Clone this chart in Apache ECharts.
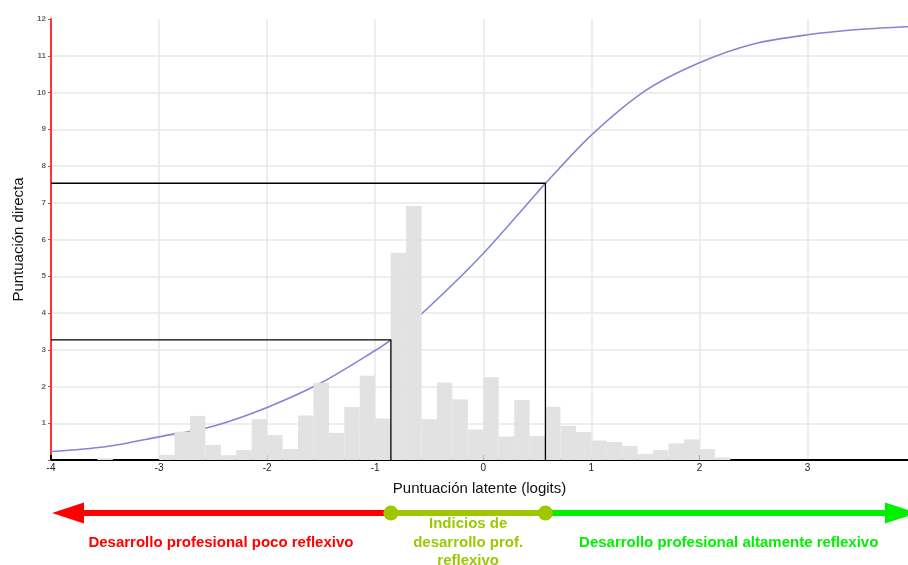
<!DOCTYPE html>
<html><head><meta charset="utf-8">
<script src="https://cdn.jsdelivr.net/npm/echarts@6/dist/echarts.min.js"></script>
<style>html,body{margin:0;padding:0;background:#fff}#c{width:908px;height:565px}</style>
</head><body><div id="c"></div>
<script>
// ---- data ----
const xTickLabels = [-4, -3, -2, -1, 0, 1, 2, 3];
const xMajorTicks = [-4, -2, 0, 2];
const yTickLabels = [1, 2, 3, 4, 5, 6, 7, 8, 9, 10, 11, 12];

const binWidth = 1 / 7;
const binStart = [-3.571, -3.000, -2.857, -2.714, -2.571, -2.429, -2.286, -2.143, -2.000, -1.857,
                  -1.714, -1.571, -1.429, -1.286, -1.143, -1.000, -0.857, -0.714, -0.571, -0.429,
                  -0.286, -0.143, 0.000, 0.143, 0.286, 0.429, 0.571, 0.714, 0.857, 1.000,
                  1.143, 1.286, 1.429, 1.571, 1.714, 1.857, 2.000, 2.143];
const binCount = [0.05, 0.14, 0.77, 1.20, 0.41, 0.13, 0.27, 1.11, 0.68, 0.30,
                  1.21, 2.10, 0.74, 1.44, 2.29, 1.13, 5.64, 6.91, 1.11, 2.11,
                  1.65, 0.83, 2.25, 0.64, 1.63, 0.65, 1.45, 0.93, 0.76, 0.53,
                  0.49, 0.38, 0.16, 0.27, 0.45, 0.56, 0.30, 0.07];

const curveX = [-4, -3.5, -3, -2.5, -2, -1.5, -1, -0.855, -0.5, 0, 0.5, 0.575, 1, 1.5, 2, 2.5, 3, 3.5, 3.93];
const curveY = [0.23, 0.36, 0.63, 0.92, 1.43, 2.10, 2.98, 3.27, 4.17, 5.62, 7.28, 7.53, 8.84, 10.05, 10.81, 11.32, 11.57, 11.72, 11.79];

const cutLow = [-0.855, 3.27];
const cutHigh = [0.575, 7.53];

const xMin = -4, xMax = 3.93, yMin = 0, yMax = 12;

const bandLabels = ['Desarrollo profesional poco reflexivo', 'Indicios de\ndesarrollo prof.\nreflexivo', 'Desarrollo profesional altamente reflexivo'];
const bandColors = ['#ff0000', '#9dc800', '#00f000'];

const xTitle = 'Puntuación latente (logits)';
const yTitle = 'Puntuación directa';

// ---- chart ----
const FONT = '"Liberation Sans", Arial, sans-serif';
const chart = echarts.init(document.getElementById('c'), null, {renderer: 'canvas'});

const option = {
  animation: false,
  backgroundColor: '#ffffff',
  textStyle: {fontFamily: FONT},
  grid: {left: 51, right: 0, top: 19, bottom: 105, containLabel: false},
  xAxis: [
    {
      type: 'value', min: xMin, max: xMax, interval: 1, position: 'bottom',
      name: xTitle, nameLocation: 'middle', nameGap: 21,
      nameTextStyle: {fontSize: 15, color: '#111', fontFamily: FONT},
      axisLine: {show: true, onZero: false, lineStyle: {color: '#000', width: 2}},
      axisTick: {show: false},
      axisLabel: {customValues: xTickLabels, fontSize: 10, color: '#222', margin: 3, fontFamily: FONT},
      splitLine: {show: true, showMinLine: false, showMaxLine: false, lineStyle: {color: '#e8e8e8', width: 1.5}}
    },
    {
      type: 'value', min: xMin, max: xMax, interval: 1, position: 'bottom', gridIndex: 0,
      axisLine: {show: false, onZero: false},
      axisTick: {show: true, inside: true, length: 5, customValues: xMajorTicks, lineStyle: {color: '#000', width: 2}},
      axisLabel: {show: false},
      splitLine: {show: false}
    }
  ],
  yAxis: {
    type: 'value', min: yMin, max: yMax, interval: 1,
    name: yTitle, nameLocation: 'middle', nameGap: 25,
    nameTextStyle: {fontSize: 15, color: '#111', fontFamily: FONT},
    axisLine: {show: true, onZero: false, lineStyle: {color: '#ff3333', width: 2}},
    axisTick: {show: true, inside: false, length: 3, lineStyle: {color: '#ff3333', width: 1}},
    axisLabel: {customValues: yTickLabels, fontSize: 8, color: '#666', margin: 5, fontWeight: 'bold', fontFamily: FONT},
    splitLine: {show: true, showMinLine: false, showMaxLine: false, lineStyle: {color: '#e8e8e8', width: 1.5}}
  },
  series: [
    {
      type: 'line', name: 'curva', z: 2,
      data: curveX.map((x, i) => [x, curveY[i]]),
      smooth: 0.3, showSymbol: false, symbol: 'none',
      lineStyle: {color: '#8585d5', width: 1.6}
    },
    {
      type: 'custom', name: 'histograma', z: 3,
      data: binStart.map((s, i) => [s, s + binWidth, binCount[i]]),
      encode: {x: [0, 1], y: 2},
      renderItem: (params, api) => {
        const a = api.coord([api.value(0), api.value(2)]);
        const b = api.coord([api.value(1), 0]);
        return {type: 'rect', shape: {x: a[0], y: a[1], width: b[0] - a[0], height: b[1] - a[1]},
                style: {fill: '#e2e2e2'}};
      }
    },
    {
      type: 'line', name: 'corte1', z: 4, symbol: 'none',
      data: [[xMin, cutLow[1]], [cutLow[0], cutLow[1]], [cutLow[0], 0]],
      lineStyle: {color: '#000', width: 1.3}
    },
    {
      type: 'line', name: 'corte2', z: 4, symbol: 'none',
      data: [[xMin, cutHigh[1]], [cutHigh[0], cutHigh[1]], [cutHigh[0], 0]],
      lineStyle: {color: '#000', width: 1.3}
    }
  ]
};
chart.setOption(option);

// ---- classification arrow below the axis (positions from the x scale) ----
const px = v => chart.convertToPixel({xAxisIndex: 0}, v);
const p0 = px(xMin), p1 = px(cutLow[0]), p2 = px(cutHigh[0]), p3 = px(xMax);
const yA = 513, head = 32, hh = 10.5, lw = 6;
const leftTip = p0 + 1, rightTip = p3 + 9;
const textY = 542.5;
const fontStr = 'bold 15px ' + FONT;

chart.setOption({
  graphic: [
    {type: 'line', z: 10, shape: {x1: leftTip + head - 2, y1: yA, x2: p1, y2: yA}, style: {stroke: bandColors[0], lineWidth: lw}},
    {type: 'polygon', z: 10, shape: {points: [[leftTip, yA], [leftTip + head, yA - hh], [leftTip + head, yA + hh]]}, style: {fill: bandColors[0]}},
    {type: 'line', z: 10, shape: {x1: p1, y1: yA, x2: p2, y2: yA}, style: {stroke: bandColors[1], lineWidth: lw}},
    {type: 'line', z: 10, shape: {x1: p2, y1: yA, x2: rightTip - head + 2, y2: yA}, style: {stroke: bandColors[2], lineWidth: lw}},
    {type: 'polygon', z: 10, shape: {points: [[rightTip, yA], [rightTip - head, yA - hh], [rightTip - head, yA + hh]]}, style: {fill: bandColors[2]}},
    {type: 'circle', z: 11, shape: {cx: p1, cy: yA, r: 7.5}, style: {fill: bandColors[1]}},
    {type: 'circle', z: 11, shape: {cx: p2, cy: yA, r: 7.5}, style: {fill: bandColors[1]}},
    {type: 'text', z: 11, style: {text: bandLabels[0], x: (p0 + p1) / 2, y: textY, align: 'center', verticalAlign: 'middle', font: fontStr, fill: bandColors[0]}},
    {type: 'text', z: 11, style: {text: bandLabels[1], x: (p1 + p2) / 2, y: textY, align: 'center', verticalAlign: 'middle', font: fontStr, lineHeight: 18.5, fill: bandColors[1]}},
    {type: 'text', z: 11, style: {text: bandLabels[2], x: (p2 + p3) / 2 + 2, y: textY, align: 'center', verticalAlign: 'middle', font: fontStr, fill: bandColors[2]}}
  ]
});
</script>
</body></html>
